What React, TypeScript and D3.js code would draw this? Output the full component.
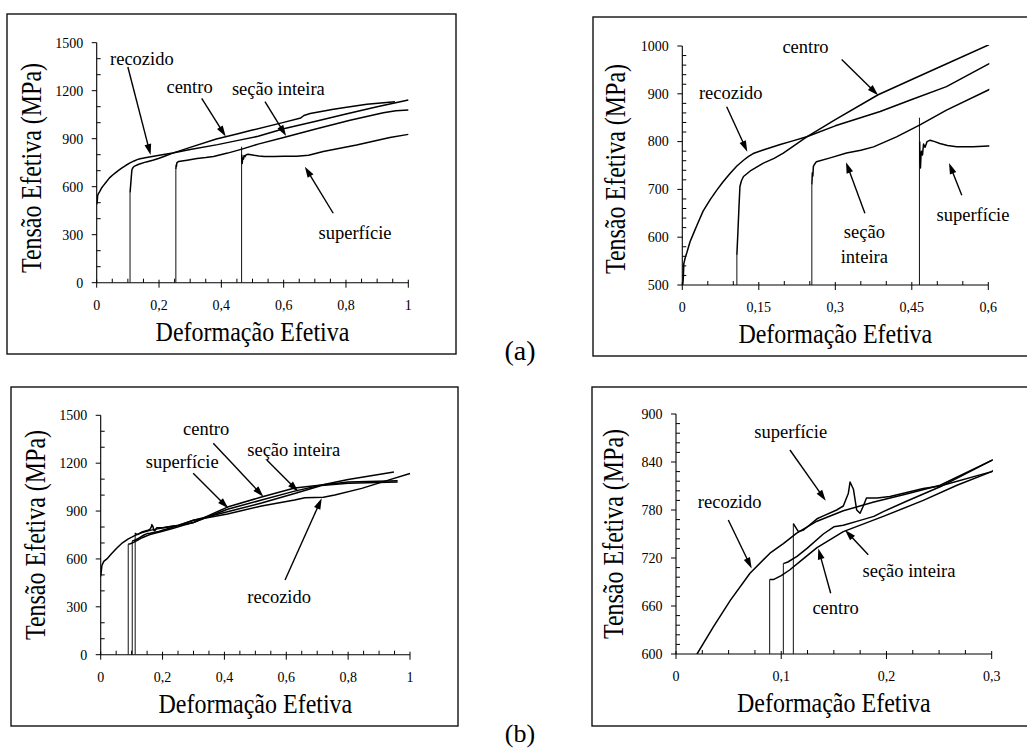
import React from 'react';
import * as d3 from 'd3';

type Pt = [number, number];

// ---------- (a) data: effective strain vs effective stress (MPa) ----------
const recozidoA: Pt[] = [
  [0.0, 490], [0.002, 515], [0.003, 545], [0.006, 558], [0.009, 568], [0.015, 590], [0.022, 608],
  [0.03, 628], [0.041, 655], [0.055, 679], [0.068, 699], [0.08, 716], [0.094, 734], [0.107, 749],
  [0.12, 761], [0.13, 769], [0.139, 775], [0.16, 783], [0.192, 794], [0.215, 801], [0.244, 810],
  [0.3, 833], [0.388, 863], [0.45, 888], [0.518, 915], [0.6, 962], [0.7, 1008], [0.8, 1055],
  [0.9, 1100], [1.0, 1142],
];
const centroA: Pt[] = [
  [0.107, 563], [0.109, 610], [0.111, 660], [0.113, 706], [0.116, 718], [0.12, 727], [0.135, 740],
  [0.159, 755], [0.18, 765], [0.198, 776], [0.22, 792], [0.244, 810], [0.3, 846], [0.384, 898],
  [0.45, 930], [0.5, 954], [0.6, 1002], [0.655, 1030], [0.665, 1045], [0.685, 1057], [0.76, 1084],
  [0.802, 1096], [0.867, 1115], [0.957, 1131],
];
const secaoA: Pt[] = [
  [0.254, 710], [0.255, 735], [0.256, 728], [0.257, 748], [0.259, 752], [0.263, 758], [0.29, 766],
  [0.322, 776], [0.35, 782], [0.375, 789], [0.42, 810], [0.466, 835], [0.518, 866], [0.6, 908],
  [0.706, 962], [0.813, 1015], [0.92, 1062], [0.96, 1074], [1.0, 1080],
];
const superficieA: Pt[] = [
  [0.4655, 800], [0.466, 760], [0.467, 745], [0.468, 770], [0.469, 780], [0.471, 772], [0.473, 795],
  [0.476, 788], [0.48, 800], [0.486, 803], [0.495, 800], [0.505, 796], [0.52, 792], [0.538, 789],
  [0.57, 789], [0.6, 791], [0.642, 790], [0.68, 797], [0.727, 820], [0.834, 860], [0.941, 908],
  [1.0, 927],
];
// elastic loading lines (strain at reload, peak stress)
const dropsA: Pt[] = [[0.107, 563], [0.254, 710], [0.465, 850]];

// ---------- (b) data ----------
const recozidoB: Pt[] = [
  [0.0, 490], [0.002, 525], [0.004, 560], [0.01, 585], [0.02, 600], [0.0355, 634], [0.0516, 667],
  [0.0703, 701], [0.0893, 726], [0.102, 738], [0.1147, 751], [0.134, 766], [0.159, 779],
  [0.188, 790], [0.219, 800], [0.251, 811], [0.3, 842], [0.41, 882], [0.52, 932], [0.627, 969],
  [0.66, 984], [0.72, 986], [0.757, 1000], [0.844, 1042], [0.93, 1094], [1.0, 1135],
];
const centroB: Pt[] = [
  [0.089, 693], [0.0925, 693], [0.1, 698], [0.108, 705], [0.12, 718], [0.134, 733], [0.159, 753],
  [0.197, 772], [0.235, 792], [0.267, 811], [0.3, 828], [0.41, 925], [0.52, 988], [0.627, 1045],
  [0.714, 1063], [0.8, 1098], [0.948, 1145],
];
const secaoB: Pt[] = [
  [0.102, 713], [0.1063, 715], [0.115, 722], [0.1245, 732], [0.14, 750], [0.15, 759], [0.159, 761],
  [0.175, 767], [0.188, 772], [0.197, 778], [0.219, 791], [0.251, 809], [0.3, 842], [0.41, 896],
  [0.52, 950], [0.627, 1010], [0.714, 1060], [0.8, 1074], [0.96, 1082],
];
const superficieB: Pt[] = [
  [0.1115, 763], [0.1163, 753], [0.1212, 755], [0.134, 769], [0.139, 772], [0.1527, 780],
  [0.159, 785], [0.1638, 801], [0.1654, 815], [0.1686, 806], [0.1717, 780], [0.1749, 776],
  [0.178, 785], [0.181, 795], [0.191, 795], [0.2033, 797], [0.235, 807], [0.251, 810], [0.3, 828],
  [0.41, 911], [0.52, 969], [0.627, 1025], [0.714, 1063], [0.8, 1082], [0.96, 1090],
];
const dropsB: Pt[] = [[0.089, 693], [0.102, 713], [0.1115, 763]];

// ---------- ticks ----------
const xTicksFull = [0, 0.2, 0.4, 0.6, 0.8, 1];
const xLabelsFull = ['0', '0,2', '0,4', '0,6', '0,8', '1'];
const yTicksFull = [0, 300, 600, 900, 1200, 1500];
const yLabelsFull = ['0', '300', '600', '900', '1200', '1500'];
const xTicksZoomA = [0, 0.15, 0.3, 0.45, 0.6];
const xLabelsZoomA = ['0', '0,15', '0,3', '0,45', '0,6'];
const yTicksZoomA = [500, 600, 700, 800, 900, 1000];
const yLabelsZoomA = ['500', '600', '700', '800', '900', '1000'];
const xTicksZoomB = [0, 0.1, 0.2, 0.3];
const xLabelsZoomB = ['0', '0,1', '0,2', '0,3'];
const yTicksZoomB = [600, 660, 720, 780, 840, 900];
const yLabelsZoomB = ['600', '660', '720', '780', '840', '900'];

const X_TITLE = 'Deformação Efetiva';
const Y_TITLE = 'Tensão Efetiva (MPa)';

// annotations: text lines, text anchor (data), arrow from -> to (data)
interface Note { lines: string[]; t: Pt; from: Pt; to: Pt; }
const notes1: Note[] = [
  { lines: ['recozido'], t: [0.145, 1361], from: [0.1, 1348], to: [0.173, 798] },
  { lines: ['centro'], t: [0.298, 1186], from: [0.337, 1152], to: [0.414, 913] },
  { lines: ['seção inteira'], t: [0.583, 1173], from: [0.54, 1131], to: [0.608, 917] },
  { lines: ['superfície'], t: [0.829, 273], from: [0.759, 434], to: [0.668, 725] },
];
const notes2: Note[] = [
  { lines: ['centro'], t: [0.2416, 985], from: [0.3125, 972], to: [0.384, 897] },
  { lines: ['recozido'], t: [0.095, 889], from: [0.087, 873], to: [0.1275, 779] },
  { lines: ['seção', 'inteira'], t: [0.357, 598], from: [0.358, 650], to: [0.321, 757] },
  { lines: ['superfície'], t: [0.57, 634], from: [0.548, 688], to: [0.523, 755] },
];
const notes3: Note[] = [
  { lines: ['centro'], t: [0.341, 1377], from: [0.364, 1325], to: [0.526, 990] },
  { lines: ['seção inteira'], t: [0.624, 1245], from: [0.537, 1220], to: [0.639, 1021] },
  { lines: ['superfície'], t: [0.2635, 1170], from: [0.299, 1137], to: [0.4125, 917] },
  { lines: ['recozido'], t: [0.577, 324], from: [0.596, 468], to: [0.7145, 980] },
];
const notes4: Note[] = [
  { lines: ['superfície'], t: [0.109, 870], from: [0.1083, 855], to: [0.1423, 791.6] },
  { lines: ['recozido'], t: [0.051, 782.5], from: [0.0497, 767.5], to: [0.0719, 707] },
  { lines: ['seção inteira'], t: [0.2214, 696], from: [0.1827, 724], to: [0.1606, 755] },
  { lines: ['centro'], t: [0.1516, 650], from: [0.147, 676], to: [0.1352, 732] },
];

const FONT = "'Liberation Serif', Tinos, 'Times New Roman', 'DejaVu Serif', serif";

interface PanelCfg {
  id: string;
  box: [number, number, number, number];
  px: [number, number];
  py: [number, number];
  xDomain: [number, number];
  yDomain: [number, number];
  xTicks: number[]; xLabels: string[]; xMinor: number;
  yTicks: number[]; yLabels: string[]; yMinor: number;
  curves: Pt[][];
  drops: Pt[];
  notes: Note[];
  yTitle: [number, number];
  lineGap: number;
}

function minorTicks(domain: [number, number], step: number, majors: number[]): number[] {
  const n = Math.round((domain[1] - domain[0]) / step);
  const out: number[] = [];
  for (let i = 0; i <= n; i++) {
    const v = domain[0] + i * step;
    if (!majors.some((m) => Math.abs(m - v) < step * 1e-3)) out.push(v);
  }
  return out;
}

function Arrow({ x0, y0, x1, y1 }: { x0: number; y0: number; x1: number; y1: number }) {
  const dx = x1 - x0, dy = y1 - y0;
  const L = Math.hypot(dx, dy);
  const ux = dx / L, uy = dy / L;
  const hl = 11, hw = 3.4;
  const bx = x1 - ux * hl, by = y1 - uy * hl;
  const pts = `${x1},${y1} ${bx - uy * hw},${by + ux * hw} ${bx + uy * hw},${by - ux * hw}`;
  return (
    <g>
      <line x1={x0} y1={y0} x2={bx + ux * 2} y2={by + uy * 2} stroke="#000" strokeWidth={1.4} />
      <polygon points={pts} fill="#000" />
    </g>
  );
}

const txt = (size: number): React.CSSProperties => ({ fontFamily: FONT, fontSize: size });

function Panel({ c }: { c: PanelCfg }) {
  const x = d3.scaleLinear().domain(c.xDomain).range(c.px);
  const y = d3.scaleLinear().domain(c.yDomain).range(c.py);
  const line = d3.line<Pt>().x((d) => x(d[0])).y((d) => y(d[1]));
  const x0 = c.px[0], x1 = c.px[1], yb = c.py[0], yt = c.py[1];
  const xMin = minorTicks(c.xDomain, c.xMinor, c.xTicks);
  const yMin = minorTicks(c.yDomain, c.yMinor, c.yTicks);
  const [bx, by, bw, bh] = c.box;
  return (
    <g>
      <rect x={bx} y={by} width={bw} height={bh} fill="none" stroke="#111" strokeWidth={1.4} />
      <defs>
        <clipPath id={`clip-${c.id}`}>
          <rect x={x0} y={yt - 1} width={x1 - x0 + 1} height={yb - yt + 1} />
        </clipPath>
      </defs>
      <line x1={x0} y1={yb} x2={x1} y2={yb} stroke="#000" strokeWidth={1.1} />
      <line x1={x0} y1={yb} x2={x0} y2={yt} stroke="#000" strokeWidth={1.1} />
      {c.xTicks.map((v, i) => (
        <g key={`xt${i}`}>
          <line x1={x(v)} x2={x(v)} y1={yb - 3} y2={yb + 5} stroke="#000" strokeWidth={1} />
          <text x={x(v)} y={yb + 27} textAnchor="middle" style={txt(14)}>{c.xLabels[i]}</text>
        </g>
      ))}
      {xMin.map((v, i) => (
        <line key={`xm${i}`} x1={x(v)} x2={x(v)} y1={yb - 4} y2={yb} stroke="#000" strokeWidth={1} />
      ))}
      {c.yTicks.map((v, i) => (
        <g key={`yt${i}`}>
          <line x1={x0 - 5} x2={x0} y1={y(v)} y2={y(v)} stroke="#000" strokeWidth={1} />
          <text x={x0 - 13.5} y={y(v) + 4.8} textAnchor="end" style={txt(14)}>{c.yLabels[i]}</text>
        </g>
      ))}
      {yMin.map((v, i) => (
        <line key={`ym${i}`} x1={x0} x2={x0 + 4} y1={y(v)} y2={y(v)} stroke="#000" strokeWidth={1} />
      ))}
      <text transform={`translate(${(x0 + x1) / 2},${yb + 58}) scale(1,1.12)`} textAnchor="middle" style={txt(24)}>{X_TITLE}</text>
      <text transform={`translate(${c.yTitle[0]},${c.yTitle[1]}) rotate(-90) scale(1,1.2)`} textAnchor="middle" style={txt(24)}>{Y_TITLE}</text>
      <g clipPath={`url(#clip-${c.id})`}>
        {c.drops.map((d, i) => (
          <line key={`d${i}`} x1={x(d[0])} x2={x(d[0])} y1={y(Math.min(0, c.yDomain[0]))} y2={y(d[1])} stroke="#111" strokeWidth={1} />
        ))}
        {c.curves.map((pts, i) => (
          <path key={`c${i}`} d={line(pts) || ''} fill="none" stroke="#000" strokeWidth={1.5} strokeLinejoin="round" />
        ))}
      </g>
      {c.notes.map((n, i) => (
        <g key={`n${i}`}>
          {n.lines.map((t, j) => (
            <text key={j} x={x(n.t[0])} y={y(n.t[1]) + j * c.lineGap} textAnchor="middle" style={txt(18.5)}>{t}</text>
          ))}
          <Arrow x0={x(n.from[0])} y0={y(n.from[1])} x1={x(n.to[0])} y1={y(n.to[1])} />
        </g>
      ))}
    </g>
  );
}

const panels: PanelCfg[] = [
  {
    id: 'p1', box: [7, 14, 449, 340], px: [96.7, 408.3], py: [282.7, 42.7],
    xDomain: [0, 1], yDomain: [0, 1500],
    xTicks: xTicksFull, xLabels: xLabelsFull, xMinor: 0.05,
    yTicks: yTicksFull, yLabels: yLabelsFull, yMinor: 100,
    curves: [recozidoA, centroA, secaoA, superficieA], drops: dropsA, notes: notes1,
    yTitle: [41, 168], lineGap: 25,
  },
  {
    id: 'p2', box: [593, 17, 450, 339], px: [682.3, 988.3], py: [285, 46],
    xDomain: [0, 0.6], yDomain: [500, 1000],
    xTicks: xTicksZoomA, xLabels: xLabelsZoomA, xMinor: 0.05,
    yTicks: yTicksZoomA, yLabels: yLabelsZoomA, yMinor: 20,
    curves: [recozidoA, centroA, secaoA, superficieA], drops: dropsA, notes: notes2,
    yTitle: [625, 169], lineGap: 25,
  },
  {
    id: 'p3', box: [11, 387, 447, 339], px: [100.7, 410], py: [654.7, 415.3],
    xDomain: [0, 1], yDomain: [0, 1500],
    xTicks: xTicksFull, xLabels: xLabelsFull, xMinor: 0.05,
    yTicks: yTicksFull, yLabels: yLabelsFull, yMinor: 100,
    curves: [recozidoB, centroB, secaoB, superficieB], drops: dropsB, notes: notes3,
    yTitle: [45, 535], lineGap: 25,
  },
  {
    id: 'p4', box: [592, 387, 450, 339], px: [676, 991.7], py: [654, 414],
    xDomain: [0, 0.3], yDomain: [600, 900],
    xTicks: xTicksZoomB, xLabels: xLabelsZoomB, xMinor: 0.025,
    yTicks: yTicksZoomB, yLabels: yLabelsZoomB, yMinor: 12,
    curves: [recozidoB, centroB, secaoB, superficieB], drops: dropsB, notes: notes4,
    yTitle: [623, 534], lineGap: 25,
  },
];

export default function App() {
  return (
    <svg
      width={1027}
      height={749}
      viewBox="0 0 1027 749"
      style={{ position: 'absolute', left: 0, top: 0, background: '#fff' }}
    >
      <rect x={0} y={0} width={1027} height={749} fill="#fff" />
      {panels.map((p) => (
        <Panel key={p.id} c={p} />
      ))}
      <text x={520} y={360} textAnchor="middle" style={txt(28)}>(a)</text>
      <text x={520} y={742} textAnchor="middle" style={txt(26)}>(b)</text>
    </svg>
  );
}
